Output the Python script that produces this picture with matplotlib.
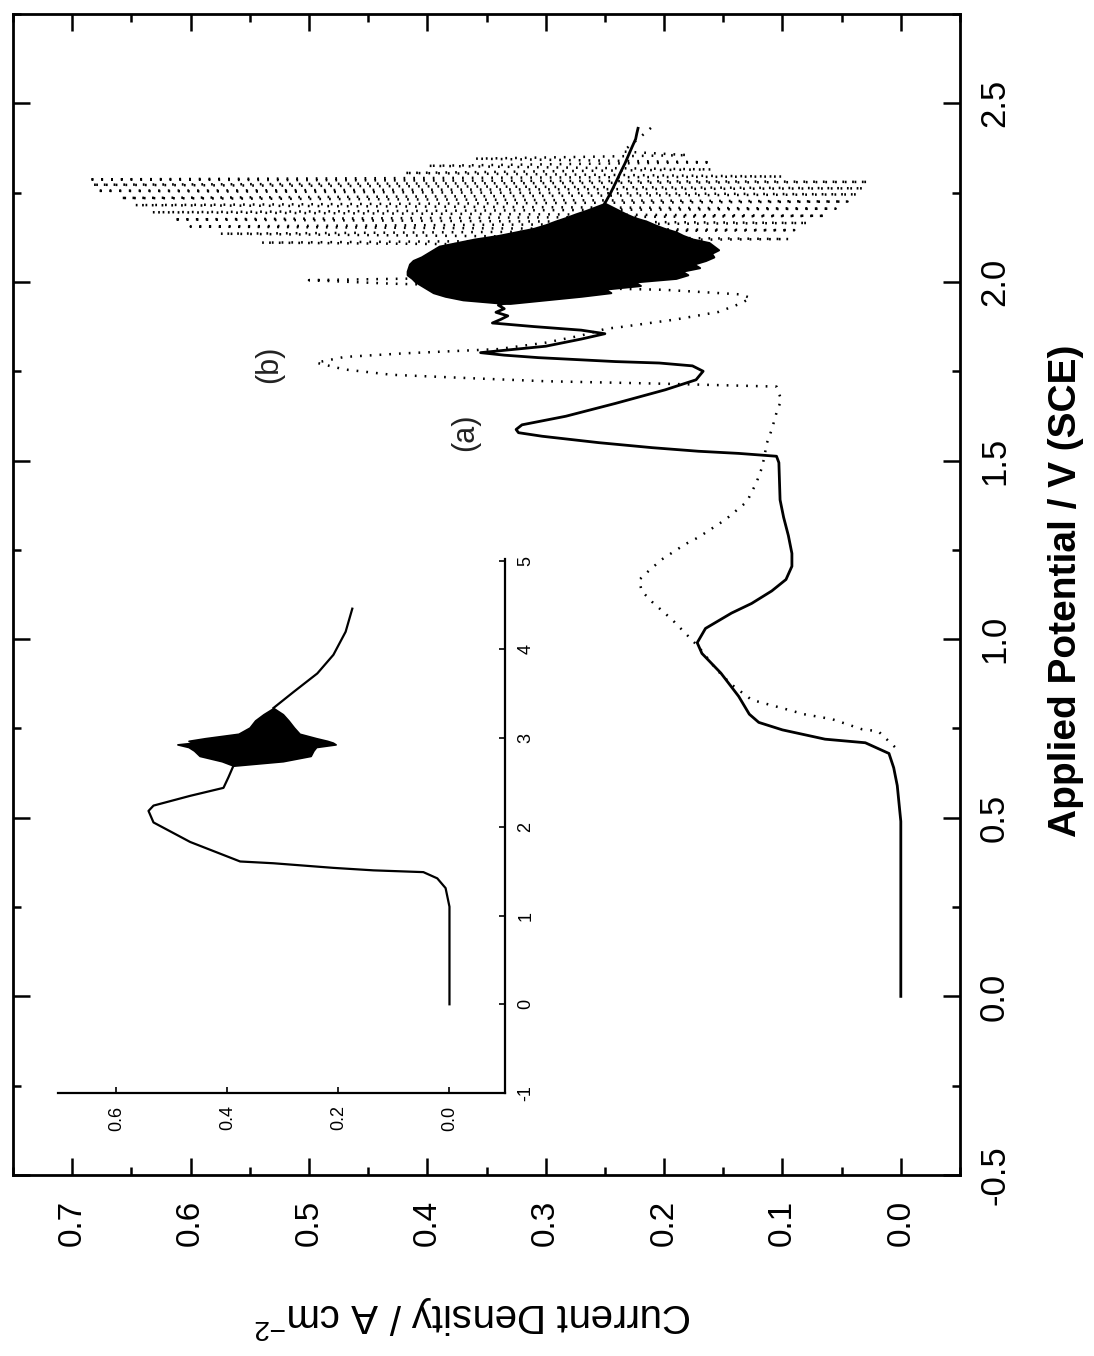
import matplotlib
matplotlib.use("Agg")
import matplotlib.pyplot as plt
from matplotlib.ticker import MultipleLocator

plt.rcParams['font.family'] = ['Liberation Sans', 'DejaVu Sans']
plt.rcParams['axes.unicode_minus'] = False
plt.rcParams['mathtext.default'] = 'regular'

# curve (a), solid line: potential (V) and current density (A cm-2)
a_potential = [0.00, 0.49, 0.59, 0.64, 0.68, 0.71, 0.72, 0.746, 0.767, 0.79, 0.84, 0.905,
               0.96, 0.99, 1.03, 1.073, 1.10, 1.135, 1.167, 1.204, 1.24, 1.29, 1.341, 1.39,
               1.494, 1.512, 1.52, 1.526, 1.536, 1.550, 1.568, 1.578, 1.587, 1.60, 1.624,
               1.66, 1.698, 1.726, 1.75, 1.765, 1.773, 1.777, 1.788, 1.795, 1.802, 1.82,
               1.84, 1.855, 1.865, 1.875, 1.885, 1.895, 1.905, 1.915, 1.925, 1.935, 1.94]
a_current = [0.000, 0.000, 0.003, 0.006, 0.010, 0.030, 0.064, 0.100, 0.120, 0.128, 0.137, 0.152,
             0.168, 0.172, 0.165, 0.143, 0.126, 0.109, 0.097, 0.092, 0.092, 0.095, 0.099, 0.102,
             0.103, 0.105, 0.137, 0.171, 0.210, 0.255, 0.303, 0.323, 0.325, 0.320, 0.283,
             0.241, 0.199, 0.173, 0.167, 0.176, 0.204, 0.241, 0.306, 0.335, 0.355, 0.30,
             0.27, 0.25, 0.27, 0.31, 0.345, 0.338, 0.332, 0.342, 0.335, 0.34, 0.335]

# oscillating band of (a): envelope of the fast oscillations
blob_potential = [1.94, 1.95, 1.96, 1.97, 1.98, 1.99, 2.00, 2.01, 2.02, 2.03, 2.04, 2.05, 2.06,
                  2.07, 2.08, 2.09, 2.10, 2.11, 2.12, 2.13, 2.14, 2.15, 2.16, 2.17, 2.18, 2.19,
                  2.20, 2.21, 2.22]
blob_hi = [0.335, 0.370, 0.385, 0.395, 0.400, 0.405, 0.410, 0.413, 0.417, 0.417, 0.416, 0.415,
           0.412, 0.405, 0.400, 0.395, 0.390, 0.375, 0.360, 0.340, 0.325, 0.310, 0.300, 0.292,
           0.283, 0.275, 0.266, 0.258, 0.250]
blob_lo = [0.330, 0.300, 0.270, 0.245, 0.250, 0.220, 0.225, 0.190, 0.180, 0.185, 0.170, 0.175,
           0.165, 0.158, 0.160, 0.154, 0.158, 0.162, 0.176, 0.184, 0.190, 0.200, 0.208, 0.215,
           0.225, 0.232, 0.238, 0.244, 0.250]

a_tail_potential = [2.22, 2.25, 2.277, 2.305, 2.332, 2.355, 2.378, 2.40, 2.416, 2.43]
a_tail_current = [0.250, 0.245, 0.241, 0.237, 0.233, 0.230, 0.227, 0.224, 0.223, 0.222]

# curve (b), dotted line
b_potential = [0.698, 0.742, 0.748, 0.776, 0.79, 0.804, 0.83, 0.873, 0.916, 0.979, 1.054, 1.104,
               1.135, 1.166, 1.191, 1.223, 1.266, 1.285, 1.335, 1.385, 1.438, 1.483, 1.55,
               1.587, 1.634, 1.670, 1.707, 1.715, 1.722, 1.73, 1.74, 1.755, 1.774, 1.79, 1.80,
               1.812, 1.83, 1.85, 1.869, 1.874, 1.895, 1.916, 1.94, 1.955, 1.965, 1.978, 1.985,
               1.995, 2.005, 2.02, 2.035, 2.05, 2.065, 2.08, 2.09, 2.10, 2.11, 2.12, 2.135,
               2.145, 2.155, 2.165, 2.175, 2.185, 2.195, 2.205, 2.215, 2.225, 2.235, 2.245,
               2.255, 2.262, 2.272, 2.28, 2.287, 2.295, 2.305, 2.315, 2.325, 2.335, 2.345,
               2.355, 2.365, 2.40, 2.44]
b_current = [0.005, 0.019, 0.033, 0.058, 0.082, 0.097, 0.126, 0.143, 0.156, 0.171, 0.193, 0.210,
             0.219, 0.221, 0.213, 0.202, 0.182, 0.171, 0.148, 0.130, 0.122, 0.117, 0.113,
             0.109, 0.105, 0.101, 0.105, 0.20, 0.30, 0.36, 0.43, 0.47, 0.494, 0.47, 0.42,
             0.34, 0.30, 0.27, 0.249, 0.236, 0.19, 0.154, 0.135, 0.127, 0.135, 0.20, 0.30,
             0.43, 0.50, 0.20, 0.40, 0.18, 0.40, 0.17, 0.39, 0.16, 0.54, 0.095, 0.575,
             0.09, 0.60, 0.078, 0.615, 0.063, 0.633, 0.055, 0.647, 0.045, 0.66, 0.036,
             0.68, 0.031, 0.684, 0.027, 0.687, 0.10, 0.42, 0.16, 0.40, 0.16, 0.36,
             0.18, 0.235, 0.222, 0.208]

# inset curve
ins_potential = [0.0, 1.10, 1.31, 1.42, 1.49, 1.51, 1.538, 1.59, 1.61, 1.83, 2.05, 2.18, 2.24,
                 2.35, 2.44, 2.56, 2.69]
ins_current = [0.0, 0.0, 0.007, 0.022, 0.047, 0.137, 0.209, 0.317, 0.377, 0.467, 0.533, 0.542,
               0.533, 0.467, 0.407, 0.398, 0.389]
ins_blob_potential = [2.69, 2.74, 2.80, 2.86, 2.90, 2.93, 2.95, 2.97, 3.00, 3.05, 3.12, 3.20,
                      3.27, 3.34]
ins_blob_hi = [0.389, 0.41, 0.45, 0.46, 0.47, 0.49, 0.46, 0.47, 0.44, 0.38, 0.36, 0.35, 0.335, 0.317]
ins_blob_lo = [0.389, 0.30, 0.25, 0.245, 0.24, 0.205, 0.21, 0.22, 0.24, 0.27, 0.28, 0.29, 0.30, 0.317]
ins_tail_potential = [3.34, 3.52, 3.73, 3.94, 4.20, 4.46]
ins_tail_current = [0.317, 0.281, 0.238, 0.209, 0.187, 0.175]

cur_ticks = [0.0, 0.1, 0.2, 0.3, 0.4, 0.5, 0.6, 0.7]
cur_labels = ['0.0', '0.1', '0.2', '0.3', '0.4', '0.5', '0.6', '0.7']
pot_ticks = [-0.5, 0.0, 0.5, 1.0, 1.5, 2.0, 2.5]
pot_labels = ['-0.5', '0.0', '0.5', '1.0', '1.5', '2.0', '2.5']
ins_cur_ticks = [0.0, 0.2, 0.4, 0.6]
ins_cur_labels = ['0.0', '0.2', '0.4', '0.6']
ins_pot_ticks = [-1, 0, 1, 2, 3, 4, 5]
ins_pot_labels = ['-1', '0', '1', '2', '3', '4', '5']

W, H = 1094, 1356
fig = plt.figure(figsize=(W / 100, H / 100), dpi=100)


def px_rect(left, top, right, bottom):
    return [left / W, 1 - bottom / H, (right - left) / W, (bottom - top) / H]


# the figure is drawn turned a quarter turn: potential runs upward, current to the left
ax = fig.add_axes(px_rect(13, 14, 960, 1175))
dots = (0, (0.7, 3.2))
ax.plot(b_current, b_potential, color='black', lw=1.8, linestyle=dots)
ax.plot(a_current, a_potential, color='black', lw=2.0)
ax.fill_betweenx(blob_potential, blob_lo, blob_hi, color='black', lw=1.5)
ax.plot(a_tail_current, a_tail_potential, color='black', lw=2.0)

ax.set_xlim(0.75, -0.05)
ax.set_ylim(-0.5, 2.75)
ax.set_xticks(cur_ticks, labels=cur_labels, rotation=90, fontsize=24)
ax.set_yticks(pot_ticks, labels=pot_labels, rotation=90, va='center', fontsize=25)
ax.xaxis.set_minor_locator(MultipleLocator(0.05))
ax.yaxis.set_minor_locator(MultipleLocator(0.25))
ax.tick_params(which='both', direction='in', top=True, bottom=True, left=True, right=True,
               labelleft=False, labelright=True, width=1.8, colors='black')
ax.tick_params(which='major', length=12)
ax.tick_params(which='minor', length=5.5)
ax.tick_params(axis='x', pad=18)
ax.tick_params(axis='y', pad=13)
for s in ax.spines.values():
    s.set_linewidth(2.0)

ax.text(0.368, 1.58, '(a)', rotation=90, ha='center', va='center', fontsize=22, color='#222222')
ax.text(0.534, 1.768, '(b)', rotation=90, ha='center', va='center', fontsize=22, color='#222222')

fig.text(1066 / W, 1 - 591 / H, 'Applied Potential / V (SCE)', rotation=90,
         ha='center', va='center', fontsize=28, fontweight='bold')
fig.text(473 / W, 1 - 1318 / H, 'Current Density / A cm$^{-2}$', rotation=180,
         ha='center', va='center', fontsize=29)

# inset
ins = fig.add_axes(px_rect(58, 559, 505, 1093))
ins.patch.set_visible(False)
ins.plot(ins_current, ins_potential, color='black', lw=1.6)
ins.fill_betweenx(ins_blob_potential, ins_blob_lo, ins_blob_hi, color='black', lw=1.2)
ins.plot(ins_tail_current, ins_tail_potential, color='black', lw=1.6)
ins.set_xlim(0.705, -0.1)
ins.set_ylim(-1, 5.02)
ins.spines['top'].set_visible(False)
ins.spines['left'].set_visible(False)
ins.spines['bottom'].set_linewidth(1.6)
ins.spines['right'].set_linewidth(1.6)
ins.yaxis.tick_right()
ins.set_xticks(ins_cur_ticks, labels=ins_cur_labels, rotation=90, fontsize=13)
ins.set_yticks(ins_pot_ticks, labels=ins_pot_labels, rotation=90, va='center', fontsize=13)
ins.tick_params(direction='in', length=4, width=1.2, pad=9)

fig.savefig('out.png', dpi=100)
